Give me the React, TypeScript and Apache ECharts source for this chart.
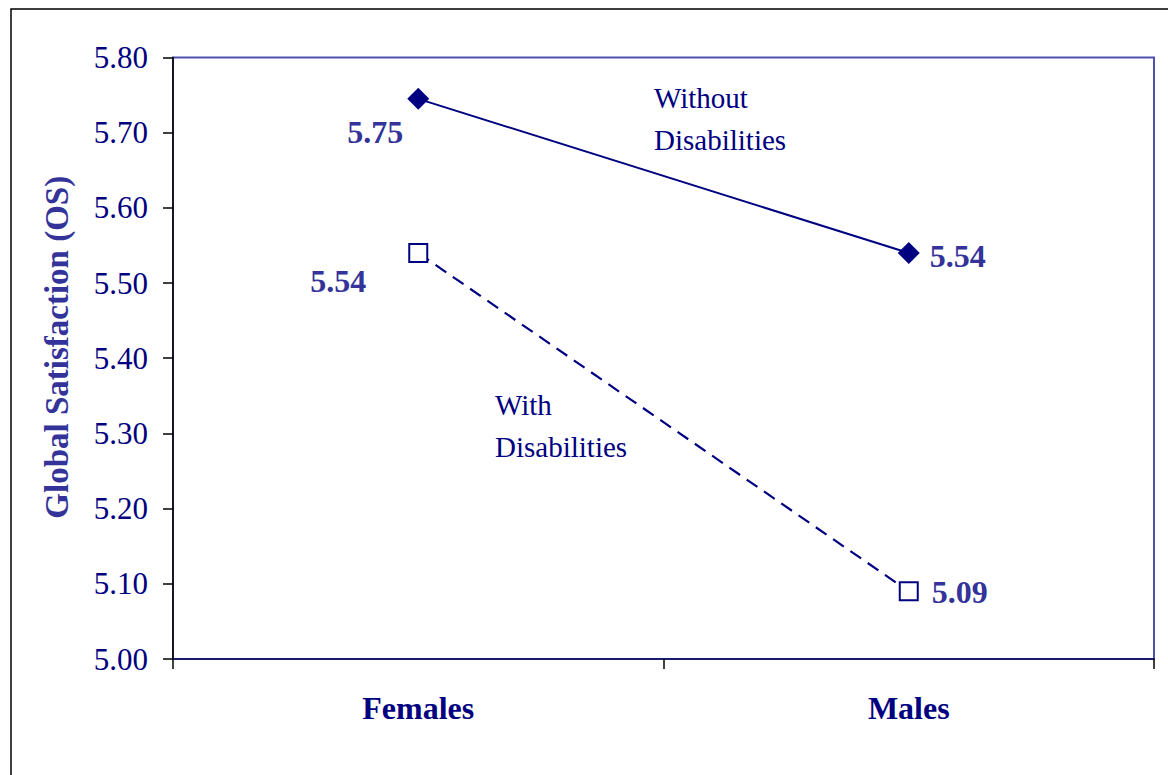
import React, { useEffect, useRef } from "react";
import * as echarts from "echarts";

const categories = ["Females", "Males"];
const withoutDisabilities = [5.745, 5.54];
const withDisabilities = [5.54, 5.09];
const withoutLabels = ["5.75", "5.54"];
const withLabels = ["5.54", "5.09"];
const yTicks = { min: 5.0, max: 5.8, interval: 0.1 };
const yAxisTitle = "Global Satisfaction (OS)";
const annotations = [
  { text: "Without\nDisabilities", left: 654, top: 77 },
  { text: "With\nDisabilities", left: 495, top: 384 },
];

const FONT = "'Liberation Serif', 'Times New Roman', serif";
const NAVY = "#000080";
const LABEL = "#333399";

export default function App() {
  const ref = useRef<HTMLDivElement>(null);
  useEffect(() => {
    const chart = echarts.init(ref.current!, null, { renderer: "svg" });
    const labelStyle = {
      show: true,
      fontFamily: FONT,
      fontWeight: "bold" as const,
      fontSize: 32,
      color: LABEL,
    };
    chart.setOption({
      animation: false,
      backgroundColor: "#ffffff",
      grid: {
        left: 173,
        top: 57.5,
        right: 14,
        bottom: 116,
        show: true,
        borderColor: "#4f4fb0",
        borderWidth: 2,
        backgroundColor: "transparent",
      },
      xAxis: {
        type: "category",
        data: categories,
        boundaryGap: true,
        axisLine: { show: true, lineStyle: { color: "#1a1a6e", width: 2 } },
        axisTick: { show: true, length: 10, inside: false, lineStyle: { color: "#000", width: 1.5 } },
        axisLabel: {
          fontFamily: FONT,
          fontWeight: "bold",
          fontSize: 32,
          color: NAVY,
          margin: 33,
        },
        splitLine: { show: false },
      },
      yAxis: {
        type: "value",
        min: yTicks.min,
        max: yTicks.max,
        interval: yTicks.interval,
        name: yAxisTitle,
        nameLocation: "middle",
        nameGap: 100,
        nameTextStyle: {
          fontFamily: FONT,
          fontWeight: "bold",
          fontSize: 33,
          color: LABEL,
          padding: [0, 0, 0, 22],
        },
        axisLine: { show: true, lineStyle: { color: "#000", width: 1.5 } },
        axisTick: { show: true, length: 10, inside: false, lineStyle: { color: "#000", width: 1.5 } },
        axisLabel: {
          fontFamily: FONT,
          fontSize: 31,
          color: NAVY,
          margin: 25,
          formatter: (v: number) => v.toFixed(2),
        },
        splitLine: { show: false },
      },
      series: [
        {
          name: "Without Disabilities",
          type: "line",
          data: withoutDisabilities.map((v, i) => ({
            value: v,
            label: {
              ...labelStyle,
              formatter: withoutLabels[i],
              position: i === 0 ? "left" : "right",
              offset: i === 0 ? [1, 33] : [5, 3],
            },
          })),
          symbol: "diamond",
          symbolSize: 22,
          itemStyle: { color: NAVY },
          lineStyle: { color: NAVY, width: 2 },
        },
        {
          name: "With Disabilities",
          type: "line",
          data: withDisabilities.map((v, i) => ({
            value: v,
            label: {
              ...labelStyle,
              formatter: withLabels[i],
              position: i === 0 ? "left" : "right",
              offset: i === 0 ? [-37, 28] : [8, 1],
            },
          })),
          symbol: "rect",
          symbolSize: 18,
          itemStyle: { color: "#ffffff", borderColor: NAVY, borderWidth: 2 },
          lineStyle: { color: NAVY, width: 2.2, type: [13, 8] },
        },
      ],
      graphic: [
        {
          type: "rect",
          shape: { x: 11, y: 9, width: 1300, height: 900 },
          style: { fill: "none", stroke: "#000", lineWidth: 1.5 },
          silent: true,
        },
        ...annotations.map((a) => ({
          type: "text",
          left: a.left,
          top: a.top,
          style: {
            text: a.text,
            fontFamily: FONT,
            fontSize: 29,
            lineHeight: 42,
            fill: NAVY,
          },
        })),
      ],
    });
    return () => chart.dispose();
  }, []);
  return (
    <div
      ref={ref}
      style={{ position: "fixed", left: 0, top: 0, width: 1168, height: 775 }}
    />
  );
}
